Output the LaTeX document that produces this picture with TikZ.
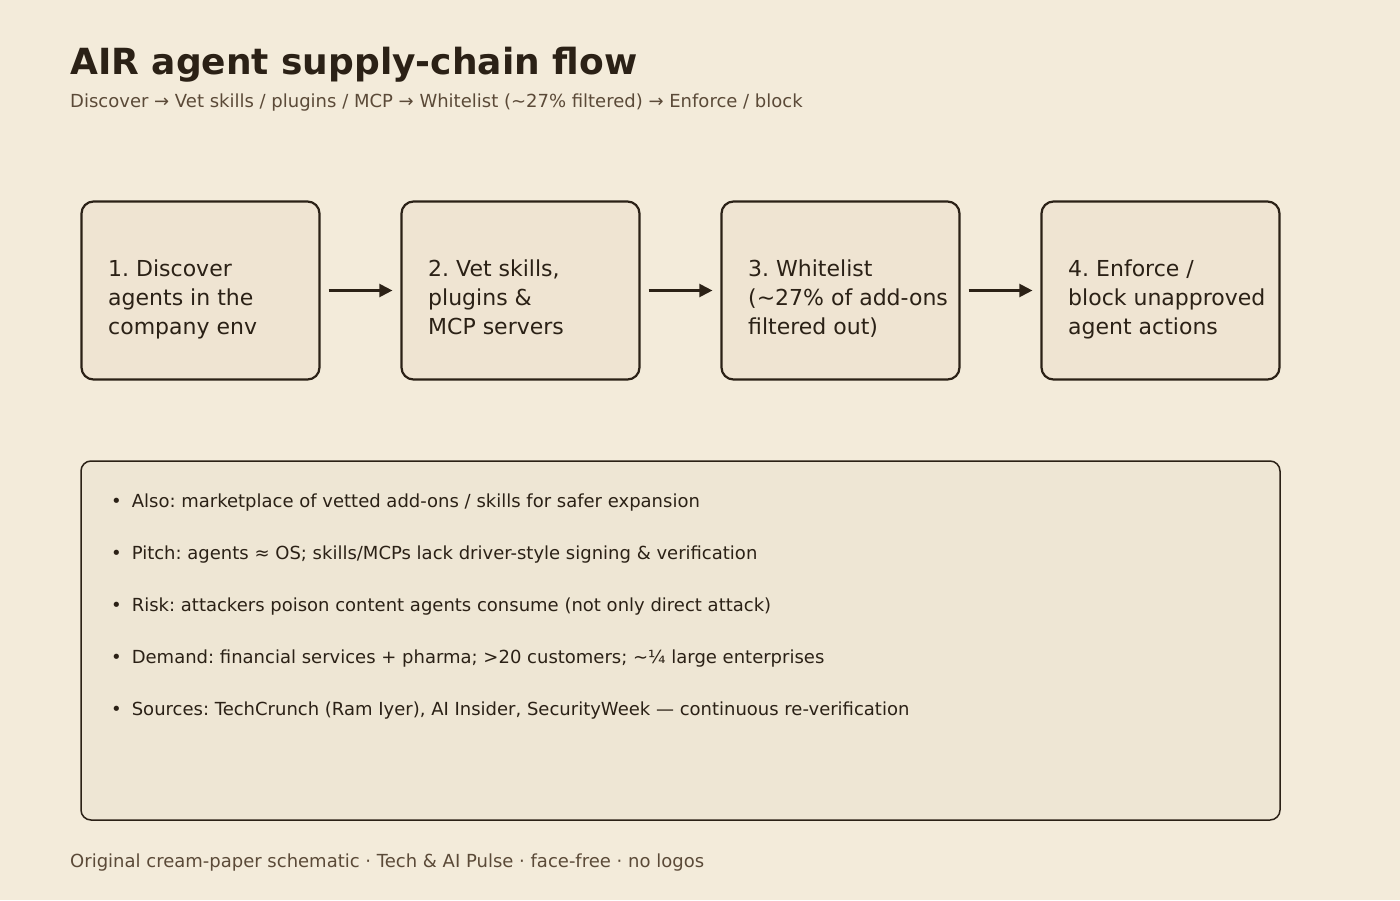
\documentclass[tikz,border=0pt]{standalone}
\usepackage{fontspec}
\setmainfont{DejaVu Sans}
\usetikzlibrary{arrows.meta}
\frenchspacing
\definecolor{bg}{HTML}{F3EBDA}
\definecolor{boxfill}{HTML}{EFE4D2}
\definecolor{panelfill}{HTML}{EEE6D4}
\definecolor{ink}{HTML}{2B2116}
\definecolor{sub}{HTML}{5B4A38}
\tikzset{
  stepbox/.style={draw=ink, line width=2.2pt, fill=boxfill, rounded corners=12pt, minimum width=238pt, minimum height=178pt, inner sep=0pt},
  boxtext/.style={anchor=base west, inner sep=0pt, align=left, text=ink, font=\fontsize{22}{29}\selectfont},
  flow/.style={draw=ink, line width=2.2pt, -{Triangle[length=13pt,width=13pt]}, shorten <=8pt, shorten >=8pt},
  panel/.style={draw=ink, line width=1.5pt, fill=panelfill, rounded corners=10pt, minimum width=1199pt, minimum height=359pt, inner sep=0pt},
  bullet/.style={anchor=base west, inner sep=0pt, text=ink, font=\fontsize{18}{21}\selectfont},
}
\begin{document}
\begin{tikzpicture}[x=1pt,y=-1pt]
\fill[bg] (0,0) rectangle (1400,900);
\useasboundingbox (0,0) rectangle (1400,900);
\node[anchor=base west, inner sep=0pt, text=ink, font=\fontsize{36}{42}\selectfont\bfseries] (title) at (70,74) {AIR agent supply-chain flow};
\node[anchor=base west, inner sep=0pt, text=sub, font=\fontsize{18}{21}\selectfont] (subtitle) at (70,107) {Discover → Vet skills / plugins / MCP → Whitelist (\textasciitilde27\% filtered) → Enforce / block};

\node[stepbox] (b1) at (200.5,290.5) {};
\node[stepbox] (b2) at (520.5,290.5) {};
\node[stepbox] (b3) at (840.5,290.5) {};
\node[stepbox] (b4) at (1160.5,290.5) {};
\node[boxtext] (t1) at (108,334) {1. Discover\\agents in the\\company env};
\node[boxtext] (t2) at (428,334) {2. Vet skills,\\plugins \&\\MCP servers};
\node[boxtext] (t3) at (748,334) {3. Whitelist\\(\textasciitilde27\% of add-ons\\filtered out)};
\node[boxtext] (t4) at (1068,334) {4. Enforce /\\block unapproved\\agent actions};
\draw[flow] (b1.east) -- (b2.west);
\draw[flow] (b2.east) -- (b3.west);
\draw[flow] (b3.east) -- (b4.west);

\node[panel] (panel) at (680.5,640.5) {};
\node[bullet] (l1) at (111,507) {•\hspace{10pt}Also: marketplace of vetted add-ons / skills for safer expansion};
\node[bullet] (l2) at (111,559) {•\hspace{10pt}Pitch: agents ≈ OS; skills/MCPs lack driver-style signing \& verification};
\node[bullet] (l3) at (111,611) {•\hspace{10pt}Risk: attackers poison content agents consume (not only direct attack)};
\node[bullet] (l4) at (111,663) {•\hspace{10pt}Demand: financial services + pharma; >20 customers; \textasciitilde¼ large enterprises};
\node[bullet] (l5) at (111,715) {•\hspace{10pt}Sources: TechCrunch (Ram Iyer), AI Insider, SecurityWeek — continuous re-verification};

\node[anchor=base west, inner sep=0pt, text=sub, font=\fontsize{18}{21}\selectfont] (footer) at (70,867) {Original cream-paper schematic · Tech \& AI Pulse · face-free · no logos};
\end{tikzpicture}
\end{document}
